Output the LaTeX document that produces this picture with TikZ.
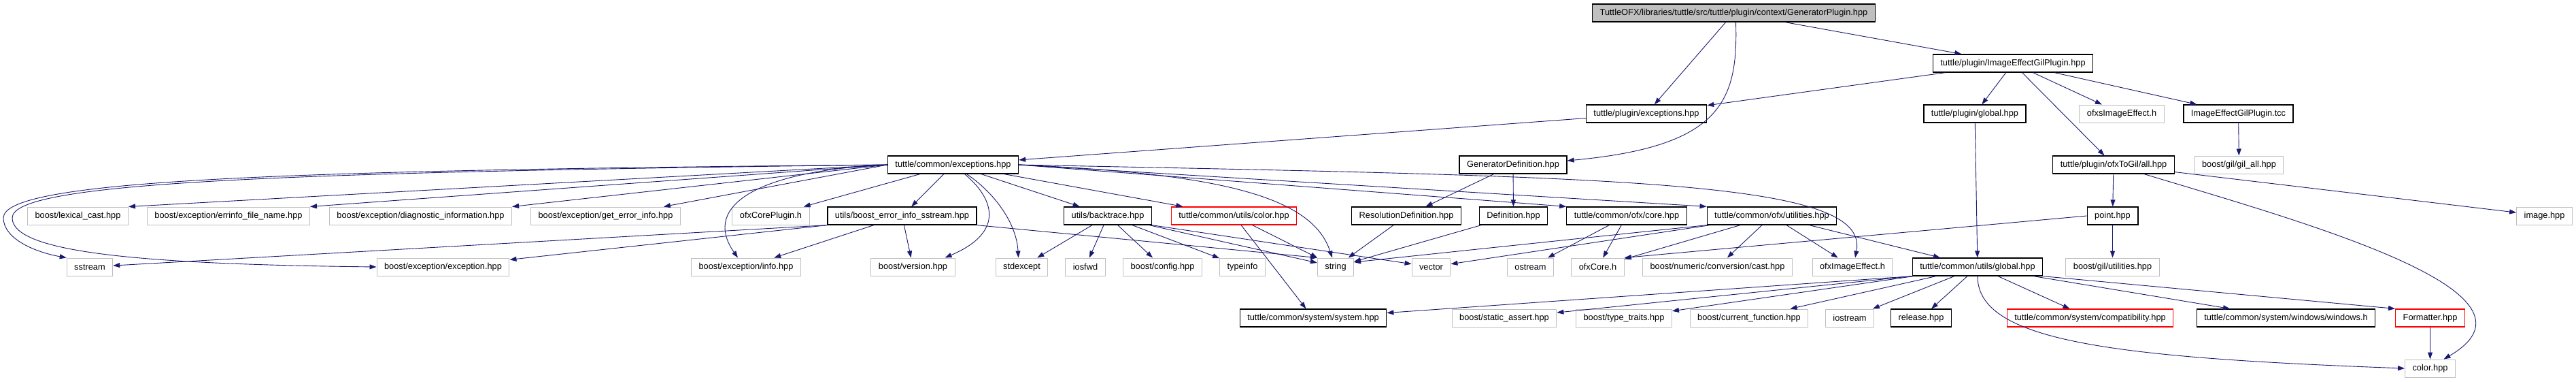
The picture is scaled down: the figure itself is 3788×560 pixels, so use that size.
\documentclass[tikz,border=0pt]{standalone}
\usepackage{fontspec}
\setmainfont{Liberation Sans}
\usetikzlibrary{arrows.meta}
\definecolor{edgeblue}{HTML}{191970}
\definecolor{boxgray}{HTML}{BFBFBF}
\newcommand{\doxfont}{\fontsize{12.8}{15}\selectfont}

\begin{document}
\begin{tikzpicture}[x=1pt, y=-1pt,
	box/.style={rectangle, draw, inner xsep=11pt, inner ysep=0pt, minimum height=26pt, font=\doxfont},
	known/.style={box, draw=black, line width=1.3pt},
	extern/.style={box, draw=boxgray, line width=1pt},
	trunc/.style={box, draw=red, line width=1.3pt},
	edge/.style={draw=edgeblue, line width=0.9pt, -{Triangle[length=10pt,width=7pt]}}]
	\useasboundingbox (0,0) rectangle (3788,560);
	% Nodes, row by row:
	\node[known, fill=boxgray] (root) at (2549.5,19) {TuttleOFX/libraries/tuttle/src/tuttle/plugin/context/GeneratorPlugin.hpp};
	\node[known] (iegp) at (2960,93) {tuttle/plugin/ImageEffectGilPlugin.hpp};
	\node[known] (pexc) at (2421,167) {tuttle/plugin/exceptions.hpp};
	\node[known] (pglob) at (2904,167) {tuttle/plugin/global.hpp};
	\node[extern] (ofxsie) at (3120,167) {ofxsImageEffect.h};
	\node[known] (tcc) at (3291.5,167) {ImageEffectGilPlugin.tcc};
	\node[known] (cexc) at (1401.5,242) {tuttle/common/exceptions.hpp};
	\node[known] (gdef) at (2225,242) {GeneratorDefinition.hpp};
	\node[known] (togil) at (3108,242) {tuttle/plugin/ofxToGil/all.hpp};
	\node[extern] (gilall) at (3292.5,242) {boost/gil/gil\_all.hpp};
	\node[extern] (lexcast) at (114.5,317) {boost/lexical\_cast.hpp};
	\node[extern] (errinfo) at (336,317) {boost/exception/errinfo\_file\_name.hpp};
	\node[extern] (diaginfo) at (618.5,317) {boost/exception/diagnostic\_information.hpp};
	\node[extern] (geterr) at (890.5,317) {boost/exception/get\_error\_info.hpp};
	\node[extern] (corepl) at (1133.5,317) {ofxCorePlugin.h};
	\node[known] (beis) at (1326.5,317) {utils/boost\_error\_info\_sstream.hpp};
	\node[known] (btrace) at (1629,317) {utils/backtrace.hpp};
	\node[trunc] (ucolor) at (1814.5,317) {tuttle/common/utils/color.hpp};
	\node[known] (resdef) at (2068,317) {ResolutionDefinition.hpp};
	\node[known] (defn) at (2225.5,317) {Definition.hpp};
	\node[known] (tcore) at (2392,317) {tuttle/common/ofx/core.hpp};
	\node[known] (tutil) at (2605.5,317) {tuttle/common/ofx/utilities.hpp};
	\node[known] (point) at (3106.5,317) {point.hpp};
	\node[extern] (imagehpp) at (3741.5,317) {image.hpp};
	\node[extern] (sstream) at (132,392) {sstream};
	\node[extern] (exch) at (651.5,392) {boost/exception/exception.hpp};
	\node[extern] (info) at (1097,392) {boost/exception/info.hpp};
	\node[extern] (version) at (1342.5,392) {boost/version.hpp};
	\node[extern] (stdexc) at (1502.5,392) {stdexcept};
	\node[extern] (iosfwd) at (1596,392) {iosfwd};
	\node[extern] (bconfig) at (1709.5,392) {boost/config.hpp};
	\node[extern] (typeinfo) at (1827,392) {typeinfo};
	\node[extern] (string) at (1964,392) {string};
	\node[extern] (vector) at (2104.5,392) {vector};
	\node[extern] (ostream) at (2250.5,392) {ostream};
	\node[extern] (ofxcoreh) at (2349.5,392) {ofxCore.h};
	\node[extern] (numcast) at (2525.5,392) {boost/numeric/conversion/cast.hpp};
	\node[extern] (oie) at (2724,392) {ofxImageEffect.h};
	\node[known] (uglob) at (2908,392) {tuttle/common/utils/global.hpp};
	\node[extern] (gilutil) at (3106.5,392) {boost/gil/utilities.hpp};
	\node[known] (sys) at (1931,467) {tuttle/common/system/system.hpp};
	\node[extern] (sassert) at (2212,467) {boost/static\_assert.hpp};
	\node[extern] (ttraits) at (2388,467) {boost/type\_traits.hpp};
	\node[extern] (curfun) at (2572,467) {boost/current\_function.hpp};
	\node[extern] (iostream) at (2720,467) {iostream};
	\node[known] (release) at (2825,467) {release.hpp};
	\node[trunc] (compat) at (3073.5,467) {tuttle/common/system/compatibility.hpp};
	\node[known] (windows) at (3361.5,467) {tuttle/common/system/windows/windows.h};
	\node[trunc] (formatter) at (3573.5,467) {Formatter.hpp};
	\node[extern] (col) at (3573.5,541) {color.hpp};
	% Include edges:
	\draw[edge] (root) -- (pexc);
	\draw[edge] ([xshift=3pt]root.south) .. controls (2556,150) and (2530,215) .. ([yshift=6pt]gdef.east);
	\draw[edge] (root) -- (iegp);
	\draw[edge] (iegp) -- (pexc);
	\draw[edge] (iegp) -- (pglob);
	\draw[edge] (iegp) -- (togil);
	\draw[edge] (iegp) -- (ofxsie);
	\draw[edge] (iegp) -- (tcc);
	\draw[edge] (tcc) -- (gilall);
	\draw[edge] (pexc) -- (cexc);
	\draw[edge] (pglob) -- (uglob);
	\draw[edge] (cexc.west) -- (lexcast.north east);
	\draw[edge] (cexc.west) -- (errinfo.north east);
	\draw[edge] (cexc.west) -- (diaginfo.north east);
	\draw[edge] (cexc.west) -- ([xshift=-25pt]geterr.north east);
	\draw[edge] (cexc) -- (corepl);
	\draw[edge] (cexc) -- (beis);
	\draw[edge] (cexc.west) .. controls (400,250) and (5,265) .. (5,320) .. controls (5,350) and (50,370) .. (sstream.north west);
	\draw[edge] (cexc.west) .. controls (400,253) and (18,268) .. (18,320) .. controls (18,370) and (200,388) .. (exch.west);
	\draw[edge] (cexc.west) .. controls (1120,250) and (1030,300) .. ([xshift=-12pt]info.north);
	\draw[edge] ([xshift=17pt]cexc.south) .. controls (1460,290) and (1480,340) .. ([xshift=-15pt]version.north east);
	\draw[edge] ([xshift=20pt]cexc.south) .. controls (1465,285) and (1495,330) .. ([xshift=-5pt]stdexc.north);
	\draw[edge] (cexc) -- (btrace);
	\draw[edge] (cexc) -- (ucolor);
	\draw[edge] (cexc.east) .. controls (1800,255) and (1930,290) .. ([xshift=-5pt]string.north);
	\draw[edge] (cexc.east) -- (tcore.north west);
	\draw[edge] (cexc.east) -- (tutil.north west);
	\draw[edge] (cexc.east) .. controls (2400,260) and (2750,265) .. ([xshift=4pt]oie.north);
	\draw[edge] (beis.south west) -- (sstream);
	\draw[edge] (beis.south west) -- (exch);
	\draw[edge] (beis) -- (info);
	\draw[edge] (beis) -- (version);
	\draw[edge] (beis.south east) -- (string.north west);
	\draw[edge] (btrace) -- (stdexc);
	\draw[edge] (btrace) -- (iosfwd);
	\draw[edge] (btrace) -- (bconfig);
	\draw[edge] (btrace) -- (typeinfo);
	\draw[edge] (btrace) -- (string);
	\draw[edge] (btrace.south east) -- (vector);
	\draw[edge] (ucolor) -- (string);
	\draw[edge] (ucolor) -- (sys);
	\draw[edge] (gdef) -- (resdef);
	\draw[edge] (gdef) -- (defn);
	\draw[edge] (resdef) -- (string);
	\draw[edge] (defn) -- (string);
	\draw[edge] (tcore) -- (ostream);
	\draw[edge] (tcore) -- (ofxcoreh);
	\draw[edge] (tutil) -- (vector);
	\draw[edge] (tutil.south west) -- ([yshift=7pt]string.east);
	\draw[edge] (tutil) -- (ofxcoreh);
	\draw[edge] (tutil) -- (numcast);
	\draw[edge] (tutil) -- (oie);
	\draw[edge] (tutil) -- (uglob);
	\draw[edge] (togil) -- (point);
	\draw[edge] (togil) -- (imagehpp);
	\draw[edge] ([xshift=45pt]togil.south) .. controls (3400,330) and (3760,430) .. ([xshift=20pt]col.north);
	\draw[edge] (point.west) -- (ofxcoreh.north east);
	\draw[edge] (point) -- (gilutil);
	\draw[edge] (uglob.south west) -- (sys);
	\draw[edge] (uglob.south west) -- (sassert);
	\draw[edge] (uglob) -- (ttraits);
	\draw[edge] (uglob) -- (curfun);
	\draw[edge] (uglob) -- (iostream);
	\draw[edge] (uglob) -- (release);
	\draw[edge] (uglob) -- (compat);
	\draw[edge] (uglob) -- (windows);
	\draw[edge] (uglob.south east) -- (formatter.north west);
	\draw[edge] (uglob.south) .. controls (2908,500) and (3100,525) .. (col.west);
	\draw[edge] (formatter) -- (col);
\end{tikzpicture}
\end{document}
